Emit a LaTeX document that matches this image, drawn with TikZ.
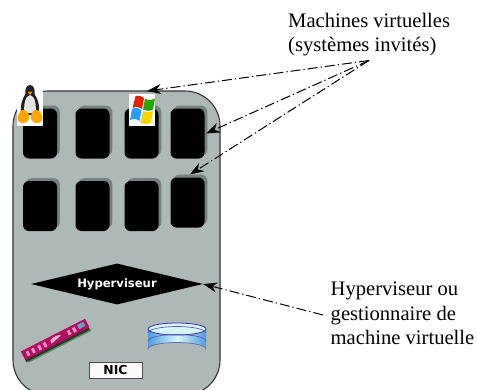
\documentclass[tikz,border=0pt]{standalone}
\usepackage{fontspec}
\setmainfont{Liberation Serif}
\newfontfamily\djbold[BoldFont=DejaVu Sans Bold]{DejaVu Sans}
\usetikzlibrary{shapes.geometric,shadows,arrows.meta}
\definecolor{bodygray}{HTML}{AEB8B6}
\definecolor{shadegray}{HTML}{748280}
\definecolor{ramred}{HTML}{B0105F}
\definecolor{diskedge}{HTML}{4F9BE0}
\definecolor{diskmid}{HTML}{D8F6FA}
\tikzset{
  vm/.style={rectangle,rounded corners=6pt,fill=black,minimum width=34pt,minimum height=50pt,inner sep=0pt,
    copy shadow={fill=shadegray,draw=none,shadow xshift=2.8pt,shadow yshift=2.8pt,opacity=1}},
  lbl/.style={font=\fontsize{20.6}{24.3}\selectfont,align=left,inner sep=0pt,text=black},
  iconbg/.style={rectangle,fill=white,inner sep=0pt},
  pointer/.style={draw=black,line width=1pt,dash pattern=on 10pt off 3pt on 1.3pt off 3pt,
    -{Stealth[length=14pt,width=10pt]}},
}
\begin{document}
\begin{tikzpicture}[x=1pt,y=-1pt]
\useasboundingbox (0,0) rectangle (477,389);
\clip (0,0) rectangle (477,389);
\fill[white] (0,0) rectangle (477,389);
% host
\node[rectangle,rounded corners=35pt,draw=black!80,line width=1.1pt,fill=bodygray,minimum width=207pt,minimum height=304pt,inner sep=0pt] (host) at (116.5,243) {};
% virtual machines
\node[vm] (vm1) at (40,133.5) {};
\node[vm] (vm2) at (92.5,133.5) {};
\node[vm] (vm3) at (141.5,133.5) {};
\node[vm] (vm4) at (187.5,133.5) {};
\node[vm] (vm5) at (40,206) {};
\node[vm] (vm6) at (92.5,206) {};
\node[vm] (vm7) at (141.5,206) {};
\node[vm] (vm8) at (187.5,202.5) {};
% hypervisor
\node[diamond,fill=black,text=white,aspect=4.2,minimum width=172pt,minimum height=41pt,inner sep=0pt,font=\djbold\bfseries\fontsize{11.6}{13}\selectfont] (hyp) at (117,284) {Hyperviseur};
% NIC
\node[rectangle,draw=black!70,line width=0.9pt,fill=white!92!bodygray,minimum width=53pt,minimum height=16pt,inner sep=0pt,font=\djbold\bfseries\fontsize{12.4}{14}\selectfont] (nic) at (115.5,370) {NIC};
% Tux
\node[iconbg,minimum width=26pt,minimum height=41pt] (tux) at (30,105.5) {};
\fill[black!88] (30,85) .. controls (25.5,85.5) and (25,90) .. (25.5,94) .. controls (22,99) and (20,106) .. (21,115) -- (39,115) .. controls (40,106) and (38,99) .. (34.5,94) .. controls (35,90) and (34.5,85.5) .. (30,85) -- cycle;
\fill[black!10] (30,95) .. controls (25,96) and (23.5,105) .. (24.5,113) -- (35.5,113) .. controls (36.5,105) and (35,96) .. (30,95) -- cycle;
\fill[orange!90!yellow] (27.5,91.5) -- (32.5,91.5) -- (30,95) -- cycle;
\fill[orange!70!yellow] (17.5,118) .. controls (19,110) and (24,108) .. (27,111.5) .. controls (30,115) and (30,120) .. (26,122.5) .. controls (22,124) and (17,122) .. (17.5,118) -- cycle;
\fill[orange!70!yellow] (42.5,118) .. controls (41,110) and (36,108) .. (33,111.5) .. controls (30,115) and (30,120) .. (34,122.5) .. controls (38,124) and (43,122) .. (42.5,118) -- cycle;
% Windows
\node[iconbg,minimum width=26pt,minimum height=32pt] (win) at (142,110) {};
\fill[red!70!orange!90!black] (135.5,96) .. controls (138.5,95) and (141,96) .. (144,98) -- (142,109) .. controls (138.5,106.5) and (136,106.5) .. (132.5,108) -- cycle;
\fill[green!60!black!85!yellow] (145,98.5) .. controls (148,100.5) and (151,100.5) .. (155,98.5) -- (153,109.5) .. controls (149.5,111.5) and (146,111) .. (143,109.5) -- cycle;
\fill[blue!45!cyan!85] (132,109) .. controls (135.5,107.5) and (138,107.5) .. (141.5,110) -- (139.5,121) .. controls (136,118.5) and (133.5,118.5) .. (130,120) -- cycle;
\fill[yellow!70!orange] (143,111) .. controls (145.5,112.5) and (149,113) .. (153,111) -- (151,122.5) .. controls (147,124.5) and (143.5,124.5) .. (140.5,123) -- cycle;
% RAM
\begin{scope}[shift={(55.5,340)},rotate=27]
\fill[green!45!black,opacity=.55] (-34,5) rectangle (36,8);
\fill[black!80] (-36,3) rectangle (35,6.5);
\fill[ramred] (-36,-5.5) rectangle (36,4);
\foreach \i in {-32,-26,-19,-13,14,20}{\fill[magenta!45!white] (\i,-3) rectangle ++(3,5);}
\fill[white!70!magenta] (-5,-1.5) .. controls (-2,-4) and (4,-4) .. (7,-2) .. controls (4,-.5) and (0,0) .. (-5,1.5) -- cycle;
\fill[cyan!50!gray] (26,-3.5) rectangle (33,1);
\end{scope}
% disk
\shade[left color=diskedge,right color=diskedge,middle color=diskmid] (148,329) -- (148,349) arc[start angle=180,end angle=360,x radius=29,y radius=6.5] -- (206,329) -- cycle;
\fill[diskmid] (177,329) ellipse[x radius=29,y radius=6];
\draw[blue!60!black!80,line width=.8pt] (177,329) ellipse[x radius=29,y radius=6];
\draw[blue!60!black!65,line width=.7pt] (148,333) arc[start angle=180,end angle=360,x radius=29,y radius=6.5];
\draw[blue!60!black!65,line width=.7pt] (148,341) arc[start angle=180,end angle=360,x radius=29,y radius=6.5];
\draw[blue!50!black!60,line width=.7pt] (148,349) arc[start angle=180,end angle=360,x radius=29,y radius=6.5];
% labels
\node[lbl,anchor=north west] (vmlabel) at (288,13) {Machines virtuelles\\(systèmes invités)};
\node[lbl,anchor=north west] (hyplabel) at (330.5,282) {Hyperviseur ou\\gestionnaire de\\machine virtuelle};
% connectors
\coordinate (src) at (369,60.5);
\coordinate (hsrc) at (323,315);
\coordinate (t1) at (147,91);
\coordinate (t2) at (206,133.5);
\coordinate (t3) at (190,174.5);
\draw[pointer] (src) -- (t1);
\draw[pointer] (src) -- (t2);
\draw[pointer] (src) -- (t3);
\draw[pointer] (hsrc) -- (hyp.east);
\end{tikzpicture}
\end{document}
